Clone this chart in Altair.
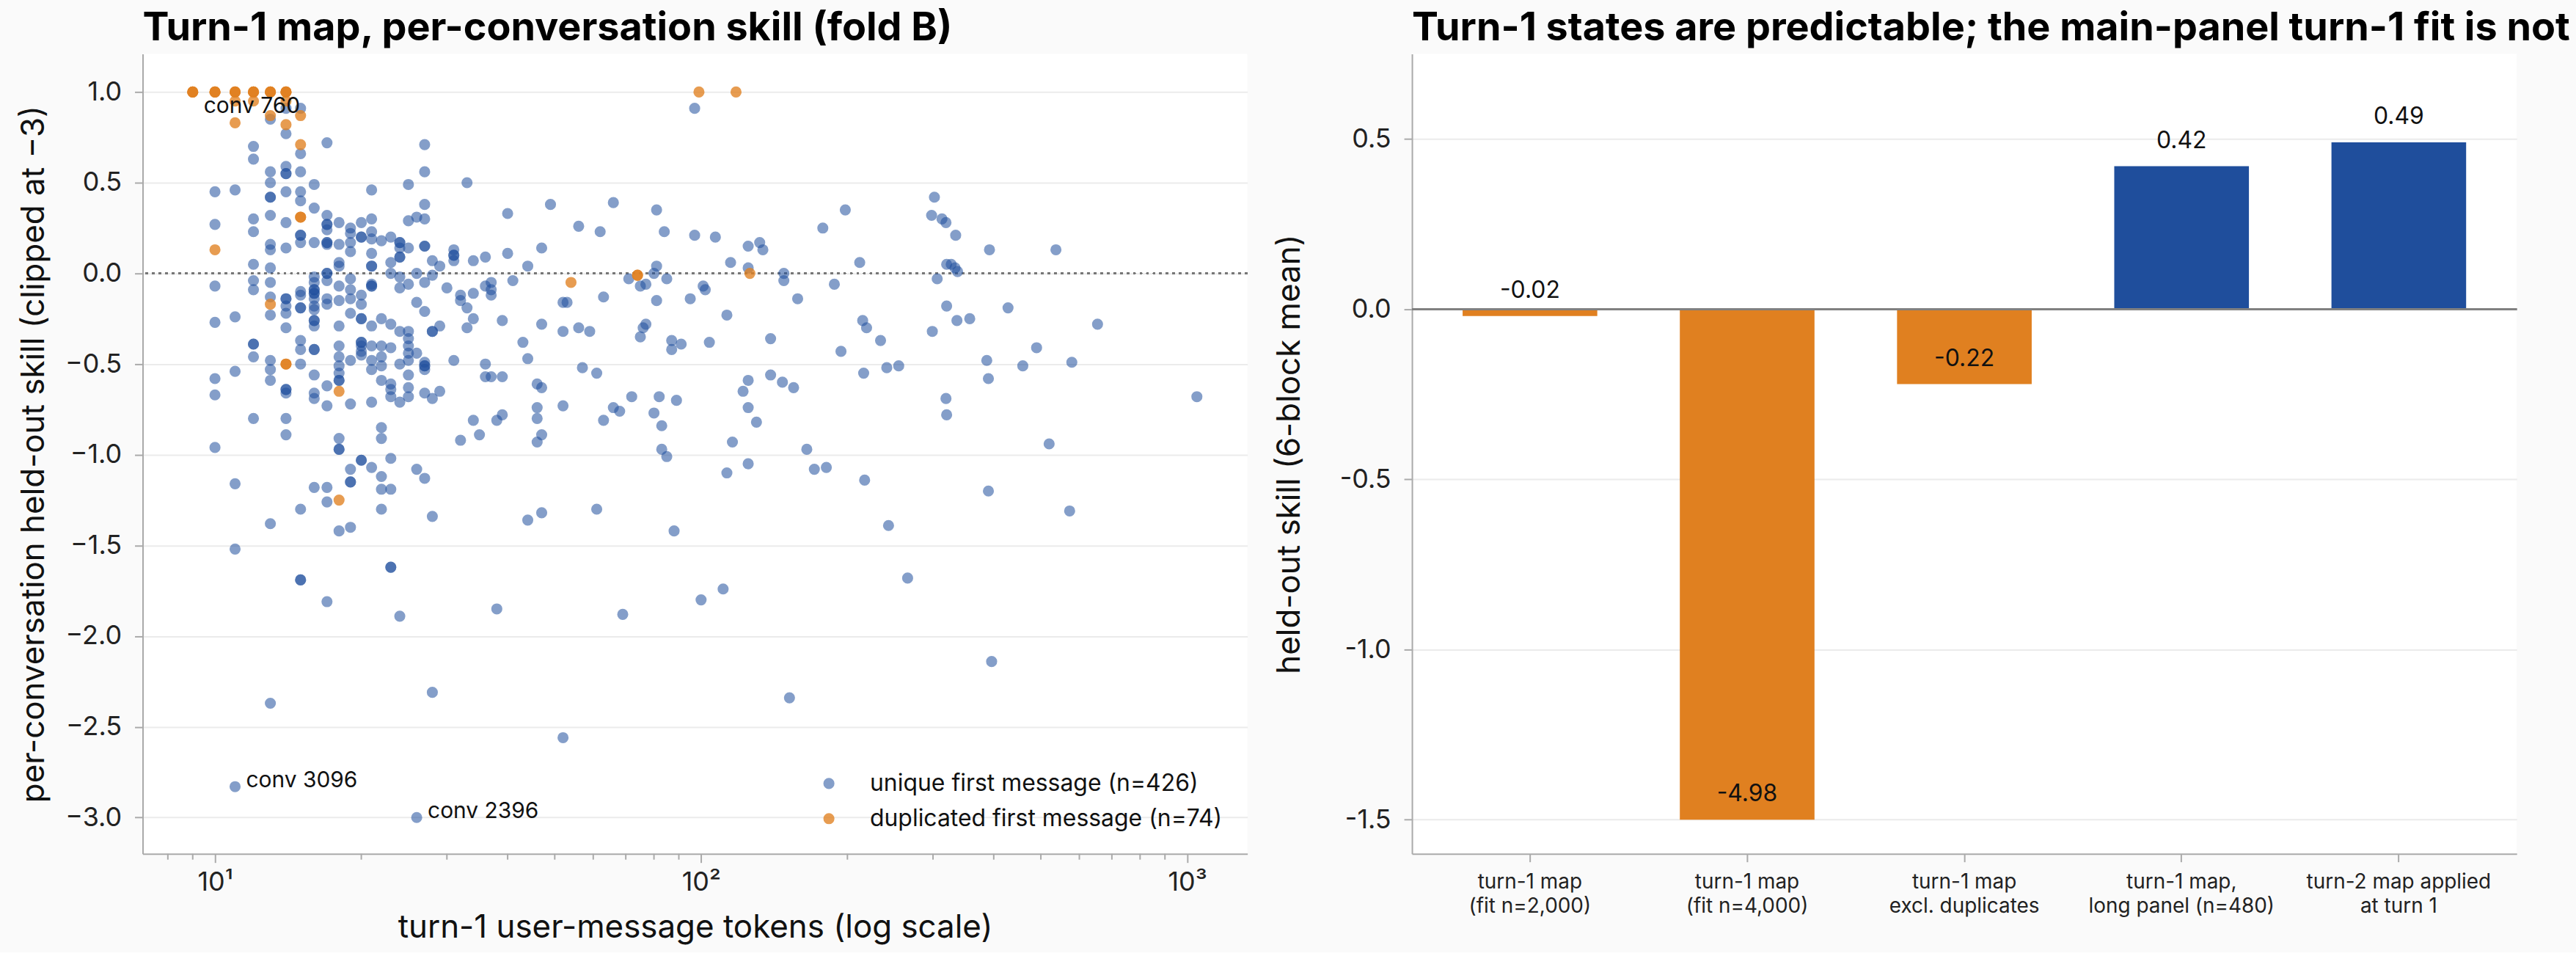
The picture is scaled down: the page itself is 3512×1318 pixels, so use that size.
import altair as alt
import pandas as pd

FONT = "Inter"
BLUE = "#1f4e9c"
ORANGE = "#e08020"

# ---- left panel: per-conversation skill vs. turn-1 message length ----
UNIQUE_LABEL = "unique first message (n=426)"
DUP_LABEL = "duplicated first message (n=74)"

# (turn-1 tokens, held-out skill) for conversations with a unique first message
UNIQUE_POINTS = [
    (10, 0.45), (10, 0.27), (10, -0.07), (10, -0.27), (10, -0.58), (10, -0.67), (10, -0.96),
    (11, 0.46), (11, -0.24), (11, -0.54), (11, -1.16), (11, -1.52), (11, -2.83),
    (12, 0.70), (12, 0.63), (12, 0.30), (12, 0.23), (12, 0.05), (12, -0.04), (12, -0.09),
    (12, -0.39), (12, -0.39), (12, -0.46), (12, -0.80),
    (13, 0.85), (13, 0.56), (13, 0.50), (13, 0.42), (13, 0.42), (13, 0.32), (13, 0.16),
    (13, 0.13), (13, 0.03), (13, -0.05), (13, -0.13), (13, -0.23), (13, -0.48), (13, -0.53),
    (13, -0.59), (13, -1.38), (13, -2.37),
    (14, 0.91), (14, 0.77), (14, 0.59), (14, 0.55), (14, 0.55), (14, 0.45), (14, 0.28),
    (14, 0.14), (14, -0.14), (14, -0.14), (14, -0.18), (14, -0.22), (14, -0.30), (14, -0.64),
    (14, -0.64), (14, -0.66), (14, -0.80), (14, -0.89),
    (15, 0.91), (15, 0.66), (15, 0.56), (15, 0.45), (15, 0.40), (15, 0.21), (15, 0.21),
    (15, 0.17), (15, -0.10), (15, -0.12), (15, -0.19), (15, -0.19), (15, -0.37), (15, -0.42),
    (15, -0.50), (15, -1.30), (15, -1.69), (15, -1.69),
    (16, 0.49), (16, 0.36), (16, 0.17), (16, -0.02), (16, -0.05), (16, -0.09), (16, -0.09),
    (16, -0.11), (16, -0.11), (16, -0.14), (16, -0.18), (16, -0.20), (16, -0.26), (16, -0.26),
    (16, -0.29), (16, -0.42), (16, -0.42), (16, -0.56), (16, -0.66), (16, -0.69), (16, -1.18),
    (17, 0.72), (17, 0.32), (17, 0.27), (17, 0.27), (17, 0.24), (17, 0.17), (17, 0.17),
    (17, 0.16), (17, 0.00), (17, 0.00), (17, -0.04), (17, -0.14), (17, -0.17), (17, -0.62),
    (17, -0.73), (17, -1.18), (17, -1.26), (17, -1.81),
    (18, 0.28), (18, 0.16), (18, 0.06), (18, 0.04), (18, -0.07), (18, -0.15), (18, -0.29),
    (18, -0.40), (18, -0.46), (18, -0.51), (18, -0.55), (18, -0.59), (18, -0.59), (18, -0.91),
    (18, -0.97), (18, -0.97), (18, -1.42),
    (19, 0.25), (19, 0.22), (19, 0.17), (19, 0.12), (19, -0.03), (19, -0.09), (19, -0.14),
    (19, -0.22), (19, -0.48), (19, -0.72), (19, -1.08), (19, -1.15), (19, -1.15), (19, -1.40),
    (20, 0.28), (20, 0.20), (20, 0.20), (20, -0.12), (20, -0.17), (20, -0.25), (20, -0.25),
    (20, -0.38), (20, -0.38), (20, -0.40), (20, -0.43), (20, -0.45), (20, -1.03), (20, -1.03),
    (21, 0.46), (21, 0.30), (21, 0.23), (21, 0.19), (21, 0.11), (21, 0.04), (21, 0.04),
    (21, -0.06), (21, -0.07), (21, -0.07), (21, -0.29), (21, -0.40), (21, -0.48), (21, -0.53),
    (21, -0.71), (21, -1.07),
    (22, 0.18), (22, -0.25), (22, -0.40), (22, -0.46), (22, -0.51), (22, -0.59), (22, -0.85),
    (22, -0.91), (22, -1.12), (22, -1.19), (22, -1.30),
    (23, 0.20), (23, 0.06), (23, 0.00), (23, -0.28), (23, -0.41), (23, -0.61), (23, -0.64),
    (23, -0.68), (23, -1.02), (23, -1.19), (23, -1.62), (23, -1.62),
    (24, 0.17), (24, 0.17), (24, 0.14), (24, 0.09), (24, 0.09), (24, -0.02), (24, -0.08),
    (24, -0.32), (24, -0.50), (24, -0.71), (24, -1.89),
    (25, 0.49), (25, 0.29), (25, 0.14), (25, -0.06), (25, -0.32), (25, -0.36), (25, -0.40),
    (25, -0.44), (25, -0.48), (25, -0.56), (25, -0.63), (25, -0.68),
    (26, 0.31), (26, 0.00), (26, -0.16), (26, -0.44), (26, -1.08), (26, -3.00),
    (27, 0.71), (27, 0.56), (27, 0.38), (27, 0.30), (27, 0.15), (27, 0.15), (27, -0.05),
    (27, -0.21), (27, -0.49), (27, -0.51), (27, -0.51), (27, -0.53), (27, -0.66), (27, -1.13),
    (28, 0.07), (28, -0.01), (28, -0.32), (28, -0.32), (28, -0.69), (28, -1.34), (28, -2.31),
    (29, 0.04), (29, -0.29), (29, -0.65), (30, -0.08),
    (31, 0.13), (31, 0.10), (31, 0.10), (31, 0.07), (31, -0.48),
    (32, -0.12), (32, -0.15), (32, -0.92), (33, 0.50), (33, -0.19), (33, -0.30),
    (34, 0.07), (34, -0.11), (34, -0.25), (34, -0.81), (35, -0.89),
    (36, 0.09), (36, -0.07), (36, -0.50), (36, -0.57),
    (37, -0.05), (37, -0.09), (37, -0.12), (37, -0.57), (38, -0.81), (38, -1.85),
    (39, -0.26), (39, -0.57), (39, -0.78), (40, 0.33), (40, 0.11), (41, -0.04), (43, -0.38),
    (44, 0.04), (44, -0.47), (44, -1.36), (46, -0.61), (46, -0.74), (46, -0.80), (46, -0.93),
    (47, 0.14), (47, -0.28), (47, -0.63), (47, -0.89), (47, -1.32),
    (49, 0.38), (52, -0.16), (52, -0.32), (52, -0.73), (52, -2.56), (53, -0.16),
    (56, 0.26), (56, -0.30), (57, -0.52), (59, -0.32), (61, -0.55), (61, -1.30),
    (62, 0.23), (63, -0.13), (63, -0.81), (66, 0.39), (66, -0.74), (68, -0.76),
    (69, -1.88), (71, -0.03), (72, -0.68), (75, -0.07), (75, -0.35), (76, -0.30),
    (77, -0.06), (77, -0.28), (80, 0.00), (80, -0.77), (81, 0.35), (81, 0.04), (81, -0.15),
    (82, -0.68), (83, -0.84), (83, -0.97), (84, 0.23), (85, -0.03), (85, -1.01),
    (87, -0.37), (87, -0.42), (88, -1.42), (89, -0.70), (91, -0.39), (95, -0.14),
    (97, 0.91), (97, 0.21), (100, -1.80), (101, -0.07), (102, -0.09), (104, -0.38),
    (107, 0.20), (111, -1.74), (113, -0.23), (113, -1.10), (115, 0.06), (116, -0.93),
    (122, -0.65), (125, 0.15), (125, 0.03), (125, -0.59), (125, -0.74), (125, -1.05),
    (130, -0.82), (132, 0.17), (134, 0.13), (139, -0.36), (139, -0.56), (147, -0.60),
    (148, 0.00), (148, -0.04), (152, -2.34), (155, -0.63), (158, -0.14), (165, -0.97),
    (171, -1.08), (178, 0.25), (181, -1.07), (188, -0.06), (194, -0.43), (198, 0.35),
    (212, 0.06), (215, -0.26), (216, -0.55), (217, -1.14), (219, -0.30), (234, -0.37),
    (241, -0.52), (243, -1.39), (255, -0.51), (266, -1.68), (298, 0.32), (299, -0.32),
    (302, 0.42), (306, -0.03), (313, 0.30), (319, 0.28), (319, -0.69), (320, 0.05),
    (320, -0.18), (320, -0.78), (327, 0.05), (333, 0.03), (334, 0.21), (336, -0.26),
    (337, 0.01), (357, -0.25), (387, -0.48), (390, -0.58), (390, -1.20), (392, 0.13),
    (396, -2.14), (428, -0.19), (459, -0.51), (490, -0.41), (520, -0.94), (537, 0.13),
    (573, -1.31), (579, -0.49), (654, -0.28), (1047, -0.68),
]

# (turn-1 tokens, held-out skill) for conversations whose first message is duplicated
DUPLICATE_POINTS = [
    (9, 1.0), (9, 1.0), (9, 1.0), (10, 1.0), (10, 1.0), (10, 1.0), (11, 1.0), (11, 1.0),
    (11, 1.0), (12, 1.0), (12, 1.0), (12, 1.0), (13, 1.0), (13, 1.0), (13, 1.0),
    (14, 1.0), (14, 1.0), (14, 1.0), (99, 1.0), (118, 1.0),
    (11, 0.95), (12, 0.95), (14, 0.95), (11, 0.83), (13, 0.87), (14, 0.82), (15, 0.87),
    (15, 0.71), (10, 0.13), (15, 0.31), (15, 0.31), (13, -0.17), (14, -0.50), (14, -0.50),
    (18, -0.65), (18, -1.25), (54, -0.05), (74, -0.01), (74, -0.01), (126, 0.00),
]

# labelled conversations: (tokens, skill, text)
CALLOUTS_BELOW = [(9, 1.0, "conv 760")]
CALLOUTS_BESIDE = [(11, -2.83, "conv 3096"), (26, -3.0, "conv 2396")]

X_MAJOR = [10, 100, 1000]
X_MINOR = [8, 9, 20, 30, 40, 50, 60, 70, 80, 90, 200, 300, 400, 500, 600, 700, 800, 900]
Y_TICKS_LEFT = [-3.0, -2.5, -2.0, -1.5, -1.0, -0.5, 0.0, 0.5, 1.0]

# ---- right panel: held-out skill of each map variant ----
BAR_LABELS = [
    "turn-1 map\n(fit n=2,000)",
    "turn-1 map\n(fit n=4,000)",
    "turn-1 map\nexcl. duplicates",
    "turn-1 map,\nlong panel (n=480)",
    "turn-2 map applied\nat turn 1",
]
BAR_VALUES = [-0.02, -4.98, -0.22, 0.42, 0.49]
BAR_FLOOR = -1.5
Y_TICKS_RIGHT = [-1.5, -1.0, -0.5, 0.0, 0.5]

W, H = 1510, 1093

pts = pd.DataFrame(
    [{"tokens": t, "skill": s, "kind": UNIQUE_LABEL} for t, s in UNIQUE_POINTS]
    + [{"tokens": t, "skill": s, "kind": DUP_LABEL} for t, s in DUPLICATE_POINTS]
)

x_scale = alt.Scale(type="log", domain=[7.1, 1330], nice=False)
y_scale_left = alt.Scale(domain=[-3.2, 1.21], nice=False, zero=False)

scatter = alt.Chart(pts).mark_circle(size=230).encode(
    x=alt.X(
        "tokens:Q",
        scale=x_scale,
        axis=alt.Axis(
            values=X_MAJOR,
            labelExpr="datum.value == 10 ? '10¹' : datum.value == 100 ? '10²' : '10³'",
            title="turn-1 user-message tokens (log scale)",
            grid=False, tickSize=12, labelPadding=10, labelFontSize=36,
            titleFontSize=44, titlePadding=22,
        ),
    ),
    y=alt.Y(
        "skill:Q",
        scale=y_scale_left,
        axis=alt.Axis(
            values=Y_TICKS_LEFT, format=".1f",
            title="per-conversation held-out skill (clipped at −3)",
            grid=True, tickSize=11, labelPadding=18, labelFontSize=36,
            titleFontSize=44, titlePadding=20,
        ),
    ),
    color=alt.Color(
        "kind:N",
        scale=alt.Scale(domain=[UNIQUE_LABEL, DUP_LABEL], range=[BLUE, ORANGE]),
        legend=alt.Legend(
            title=None, orient="none", legendX=922, legendY=981, padding=0,
            labelFontSize=32, labelFont=FONT, labelColor="#111", labelLimit=0,
            symbolSize=230, symbolOpacity=0.65, symbolStrokeWidth=0,
            labelOffset=40, rowPadding=16,
        ),
    ),
    opacity=alt.Opacity(
        "kind:N",
        scale=alt.Scale(domain=[UNIQUE_LABEL, DUP_LABEL], range=[0.55, 0.78]),
        legend=None,
    ),
)

zero_dotted = alt.Chart(pts).mark_rule(
    color="#777777", strokeWidth=2.5, strokeDash=[3, 6]
).encode(y=alt.datum(0))

minor_ticks = alt.Chart(pd.DataFrame({"tokens": X_MINOR})).mark_rule(
    color="#aaaaaa", strokeWidth=2
).encode(x=alt.X("tokens:Q"), y=alt.value(H), y2=alt.value(H + 8))

callout_below = alt.Chart(
    pd.DataFrame(CALLOUTS_BELOW, columns=["tokens", "skill", "text"])
).mark_text(align="left", baseline="alphabetic", dx=15, dy=29, fontSize=30, font=FONT, color="#111").encode(
    x="tokens:Q", y="skill:Q", text="text:N"
)
callout_beside = alt.Chart(
    pd.DataFrame(CALLOUTS_BESIDE, columns=["tokens", "skill", "text"])
).mark_text(align="left", baseline="alphabetic", dx=15, dy=1, fontSize=30, font=FONT, color="#111").encode(
    x="tokens:Q", y="skill:Q", text="text:N"
)

left = alt.layer(zero_dotted, scatter, minor_ticks, callout_below, callout_beside).properties(
    width=W, height=H,
    title=alt.TitleParams(
        "Turn-1 map, per-conversation skill (fold B)",
        anchor="start", frame="group", fontSize=54, font=FONT, fontWeight="bold",
        color="#000", offset=8,
    ),
)

# ---- right panel ----
bars_df = pd.DataFrame({"variant": BAR_LABELS, "value": BAR_VALUES})
bar_base = alt.Chart(bars_df).transform_calculate(
    shown=f"max(datum.value, {BAR_FLOOR})",
    sign="datum.value < 0 ? 'neg' : 'pos'",
    txt="replace(format(datum.value, '.2f'), '\u2212', '-')",
)

x_bar = alt.X(
    "variant:N", sort=BAR_LABELS,
    scale=alt.Scale(paddingInner=0.38, paddingOuter=0.233),
    axis=alt.Axis(
        title=None, labelAngle=0, labelExpr="split(datum.label, '\\n')",
        labelFontSize=28, labelLineHeight=33, labelLimit=0, tickSize=11,
        labelPadding=14, grid=False,
    ),
)
y_bar = alt.Y(
    "shown:Q",
    scale=alt.Scale(domain=[-1.6, 0.75], nice=False, zero=False),
    axis=alt.Axis(
        values=Y_TICKS_RIGHT, format=".1f",
        labelExpr="replace(datum.label, '\u2212', '-')",
        title="held-out skill (6-block mean)",
        grid=True, tickSize=11, labelPadding=18, labelFontSize=36,
        titleFontSize=44, titlePadding=46,
    ),
)

bars = bar_base.mark_bar().encode(
    x=x_bar, y=y_bar, y2=alt.datum(0),
    color=alt.Color("sign:N", scale=alt.Scale(domain=["neg", "pos"], range=[ORANGE, BLUE]), legend=None),
)
bar_text = bar_base.mark_text(dy=-35, fontSize=32, font=FONT, color="#111", baseline="middle").encode(
    x=alt.X("variant:N", sort=BAR_LABELS), y="shown:Q", text="txt:N"
)
zero_line = bar_base.mark_rule(color="#808080", strokeWidth=3).encode(y=alt.datum(0))

right = alt.layer(bars, zero_line, bar_text).properties(
    width=W, height=H,
    title=alt.TitleParams(
        "Turn-1 states are predictable; the main-panel turn-1 fit is not",
        anchor="start", frame="group", fontSize=54, font=FONT, fontWeight="bold",
        color="#000", offset=8,
    ),
)

chart = (
    alt.hconcat(left, right, spacing=33)
    .resolve_scale(color="independent", opacity="independent")
    .properties(padding={"left": 24, "top": 10, "right": 8, "bottom": 10}, background="#fafafa")
    .configure_view(stroke=None, fill="white")
    .configure_axis(
        domainColor="#aaaaaa", domainWidth=2, tickColor="#aaaaaa", tickWidth=2,
        gridColor="#ebebeb", gridWidth=2, labelFont=FONT, titleFont=FONT,
        labelColor="#222222", titleColor="#111111", titleFontWeight="normal",
    )
)

chart.save("out.html", embed_options={"renderer": "svg", "actions": False})
